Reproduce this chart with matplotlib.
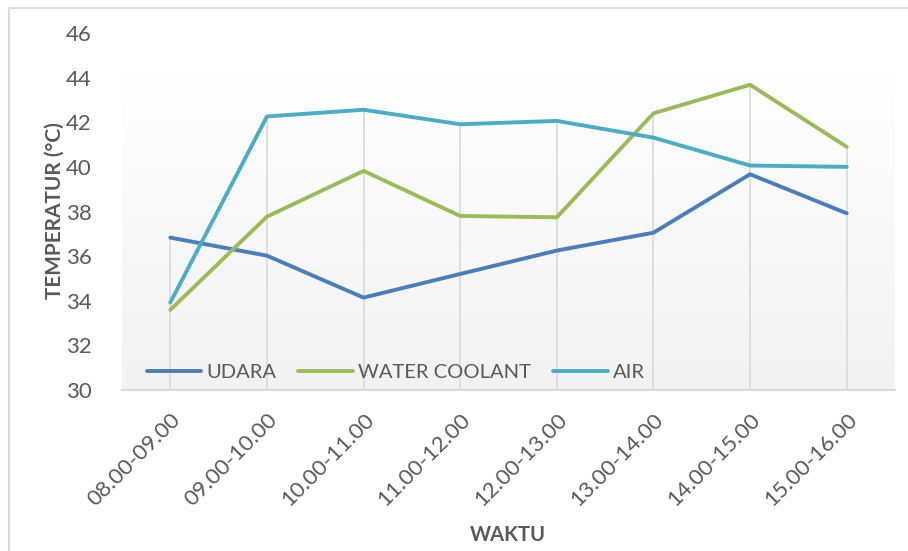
import matplotlib
matplotlib.use("Agg")
import matplotlib.pyplot as plt
import numpy as np
from matplotlib.patches import Rectangle

categories = ["08.00-09.00", "09.00-10.00", "10.00-11.00", "11.00-12.00",
              "12.00-13.00", "13.00-14.00", "14.00-15.00", "15.00-16.00"]
udara = [36.83, 36.02, 34.14, 35.20, 36.25, 37.05, 39.67, 37.92]
water_coolant = [33.59, 37.77, 39.82, 37.80, 37.74, 42.40, 43.68, 40.90]
air = [33.92, 42.26, 42.56, 41.91, 42.06, 41.31, 40.06, 40.00]
series_names = ["UDARA", "WATER COOLANT", "AIR"]
colors = ["#4A7EBB", "#9BBB59", "#4BACC6"]
yticks = [30, 32, 34, 36, 38, 40, 42, 44, 46]

plt.rcParams['font.family'] = ['Lato', 'DejaVu Sans']
text_color = "#595959"

fig = plt.figure(figsize=(9.08, 5.51), dpi=100)
# outer border
fig.add_artist(Rectangle((9/908, -0.1), 1.2, 1 - 8/551 + 0.1, transform=fig.transFigure,
                         fill=False, edgecolor="#d9d9d9", linewidth=1.5))

ax = fig.add_axes([122/908, 1 - 390/551, (895 - 122)/908, (390 - 33)/551])
x = np.arange(len(categories))

# gradient plot area fill
grad = np.linspace(0, 1, 256).reshape(-1, 1)
top = np.array([1.0, 1.0, 1.0])
bot = np.array([0xF2, 0xF2, 0xF2]) / 255
img = top + (bot - top) * grad[:, :, None] * np.ones((1, 1, 3))
ax.imshow(img, extent=[-0.5, 7.5, 30, 44.2], aspect='auto', zorder=0, origin='upper')

# drop lines
maxv = np.max(np.vstack([udara, water_coolant, air]), axis=0)
ax.vlines(x, 30, maxv, colors="#d9d9d9", linewidth=1.2, zorder=1)

for vals, name, c in zip([udara, water_coolant, air], series_names, colors):
    ax.plot(x, vals, color=c, linewidth=2.8, label=name, zorder=3,
            solid_capstyle='round', solid_joinstyle='round')

ax.set_xlim(-0.5, 7.5)
ax.set_ylim(30, 46)
ax.set_yticks(yticks)
ax.set_yticklabels([str(v) for v in yticks], fontsize=16, color=text_color)
ax.set_xticks(x)
ax.set_xticklabels(categories, rotation=45, ha='right', rotation_mode='anchor',
                   fontsize=16, color=text_color)
ax.tick_params(axis='both', length=0)
ax.tick_params(axis='y', pad=22)
ax.tick_params(axis='x', pad=14)
for s in ['top', 'right', 'left']:
    ax.spines[s].set_visible(False)
ax.spines['bottom'].set_color("#d9d9d9")
ax.spines['bottom'].set_linewidth(1.5)
ax.set_facecolor("white")

fig.text(55/908, 1 - 211/551, "TEMPERATUR (°C)", fontsize=15, fontweight='bold',
         color=text_color, rotation=90, ha='center', va='center')
fig.text(508/908, 1 - 535/551, "WAKTU", fontsize=14.5, fontweight='bold',
         color=text_color, ha='center', va='center')

leg = ax.legend(loc='lower left', bbox_to_anchor=(0.032, 0.025), ncol=3, frameon=False,
                fontsize=14.5, handlelength=2.7, columnspacing=1.1, handletextpad=0.26,
                borderpad=0, borderaxespad=0)
for t in leg.get_texts():
    t.set_color(text_color)

fig.savefig("out.png", dpi=100)
